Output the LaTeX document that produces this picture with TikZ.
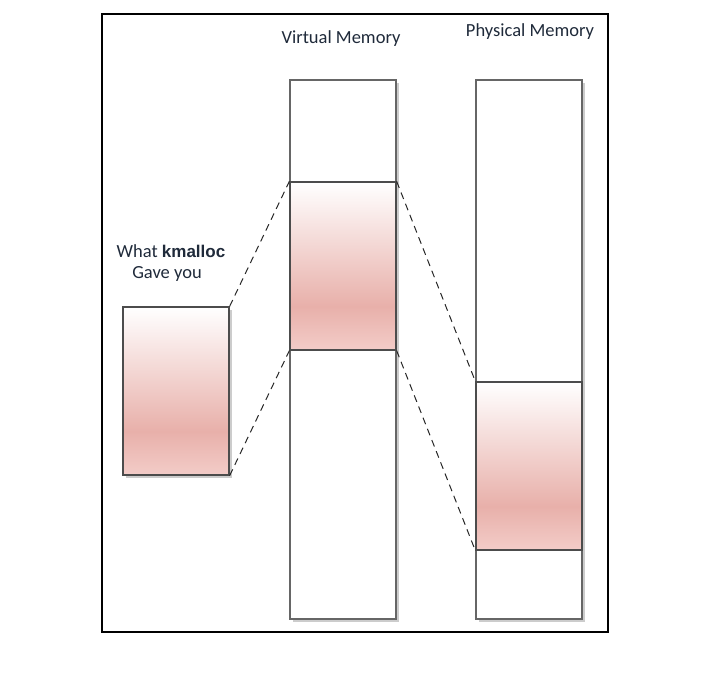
\documentclass[tikz,border=0pt]{standalone}
\usepackage{fontspec}
\setmainfont{Carlito}
\newfontfamily\arialfont{Liberation Sans}
\usetikzlibrary{shadows}
\definecolor{pinkL}{HTML}{F3CCC8}
\definecolor{pinkD}{HTML}{E8B0AA}
\definecolor{txt}{HTML}{1F2A3A}
\pgfdeclareverticalshading{memgrad}{100bp}{color(0bp)=(pinkL); color(25bp)=(pinkL); color(38bp)=(pinkD); color(75bp)=(white); color(100bp)=(white)}
\begin{document}
\begin{tikzpicture}[x=1pt,y=-1pt,
  colbox/.style={draw=black!60, line width=1.2pt, fill=white, drop shadow={shadow xshift=3pt, shadow yshift=-3pt, opacity=0.4}},
  memblock/.style={draw=black!70, line width=1.3pt, shading=memgrad},
  link/.style={black!85, line width=1pt, dash pattern=on 7pt off 5pt},
  lbl/.style={text=txt, font=\fontsize{18.5}{21}\selectfont, inner sep=0pt}]
\useasboundingbox (0,0) rectangle (717,685);
\draw[line width=1.8pt] (102,14) rectangle (608,632);
% columns
\path[colbox] (290,80) rectangle (396,619);
\path[colbox] (476,80) rectangle (582,619);
\path[colbox] (123,307) rectangle (229,475);
% blocks
\node[memblock, minimum width=106pt, minimum height=168pt, inner sep=0pt] (vb) at (343,266) {};
\node[memblock, minimum width=106pt, minimum height=168pt, inner sep=0pt] (pb) at (529,466) {};
\node[memblock, minimum width=106pt, minimum height=168pt, inner sep=0pt] (kb) at (176,391) {};
% labels
\node[lbl] (vlab) at (341,39) {Virtual Memory};
\node[lbl] (plab) at (530,32) {Physical Memory};
\node[lbl] (klab1) at (171,251) {What {\arialfont\bfseries\fontsize{17}{20}\selectfont kmalloc}};
\node[lbl] (klab2) at (167,274) {Gave you};
% connectors
\draw[link] (kb.north east) -- (vb.north west);
\draw[link] (kb.south east) -- (vb.south west);
\draw[link] (vb.north east) -- (pb.north west);
\draw[link] (vb.south east) -- (pb.south west);
\end{tikzpicture}
\end{document}
